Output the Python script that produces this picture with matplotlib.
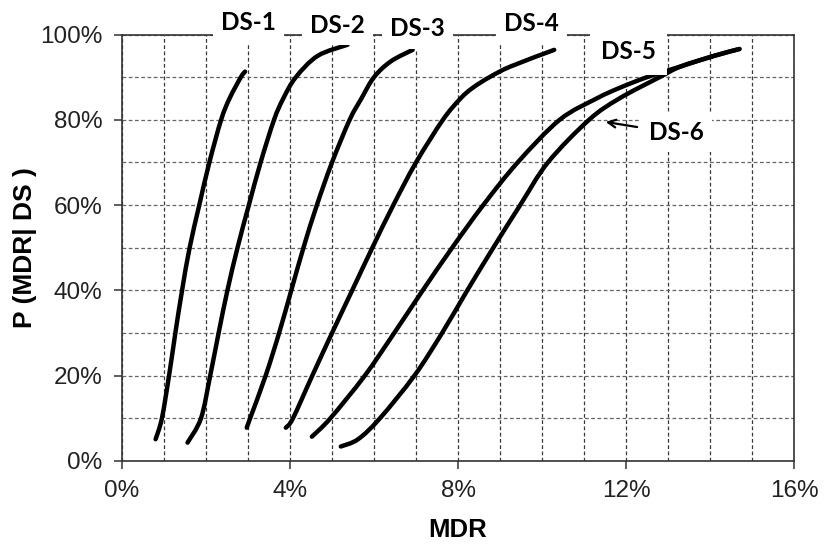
import matplotlib
matplotlib.use("Agg")
import matplotlib.pyplot as plt
from matplotlib.path import Path
from matplotlib.patches import PathPatch
from matplotlib.ticker import MultipleLocator, PercentFormatter

# Fragility-style curves: probability of mean damage ratio given damage state
ds1_x = [0.80, 0.95, 1.12, 1.27, 1.43, 1.61, 1.84, 2.08, 2.36, 2.56, 2.83, 2.93]
ds1_y = [5.1, 10, 20, 30, 40, 50, 60, 70, 80, 85, 90, 91.3]

ds2_x = [1.56, 1.88, 2.10, 2.30, 2.51, 2.75, 3.02, 3.30, 3.62, 3.84, 4.14, 4.66, 5.37]
ds2_y = [4.3, 10, 20, 30, 40, 50, 60, 70, 80, 85, 90, 95, 97.6]

ds3_x = [2.97, 3.05, 3.42, 3.74, 4.03, 4.32, 4.64, 5.00, 5.42, 5.70, 6.00, 6.40, 6.92]
ds3_y = [7.8, 10, 20, 30, 40, 50, 60, 70, 80, 85, 90, 93.7, 96.4]

ds4_x = [3.90, 4.07, 4.53, 5.00, 5.48, 5.96, 6.46, 7.00, 7.64, 8.06, 8.35, 8.75, 9.25, 10.29]
ds4_y = [7.8, 10, 20, 30, 40, 50, 60, 70, 80, 85, 87.5, 90, 92.5, 96.4]

ds5_x = [4.52, 4.96, 5.78, 6.48, 7.16, 7.86, 8.60, 9.42, 10.42, 11.30, 11.85, 12.50, 13.30, 14.10, 14.70]
ds5_y = [5.7, 10, 20, 30, 40, 50, 60, 70, 80, 85, 87.5, 90, 92.5, 95, 96.6]

ds6_x = [5.21, 5.62, 6.14, 6.96, 7.62, 8.22, 8.84, 9.48, 10.14, 11.12, 11.84, 12.80, 13.30, 14.10, 14.70]
ds6_y = [3.4, 5.1, 10, 20, 30, 40, 50, 60, 70, 80, 85, 90, 92.5, 95, 96.6]

curves = [(ds1_x, ds1_y), (ds2_x, ds2_y), (ds3_x, ds3_y),
          (ds4_x, ds4_y), (ds5_x, ds5_y), (ds6_x, ds6_y)]

labels = ["DS-1", "DS-2", "DS-3", "DS-4", "DS-5", "DS-6"]
label_pos = [(3.01, 102.7), (5.13, 102.2), (7.04, 101.3),
             (9.75, 102.5), (12.05, 95.9), (13.19, 77.1)]
label_pad = [6, 6, 6, 6, 8, 6]

x_ticks = [0, 4, 8, 12, 16]
y_ticks = [0, 20, 40, 60, 80, 100]


def smooth_path(xs, ys):
    """Cubic Bezier path passing through every point (Catmull-Rom tangents)."""
    pts = list(zip(xs, ys))
    n = len(pts)
    verts = [pts[0]]
    codes = [Path.MOVETO]
    for i in range(n - 1):
        p0 = pts[i - 1] if i > 0 else pts[i]
        p1 = pts[i]
        p2 = pts[i + 1]
        p3 = pts[i + 2] if i + 2 < n else pts[i + 1]
        c1 = (p1[0] + (p2[0] - p0[0]) / 6.0, p1[1] + (p2[1] - p0[1]) / 6.0)
        c2 = (p2[0] - (p3[0] - p1[0]) / 6.0, p2[1] - (p3[1] - p1[1]) / 6.0)
        verts += [c1, c2, p2]
        codes += [Path.CURVE4] * 3
    return Path(verts, codes)


fig = plt.figure(figsize=(8.26, 5.46), dpi=100)
ax = fig.add_axes([0.1477, 0.1557, 0.8136, 0.7811])

for xs, ys in curves:
    ax.add_patch(PathPatch(smooth_path(xs, ys), facecolor="none",
                           edgecolor="black", linewidth=3.2,
                           joinstyle="round", capstyle="round", zorder=3))

ax.set_xlim(0, 16)
ax.set_ylim(0, 100)
ax.set_xticks(x_ticks)
ax.set_yticks(y_ticks)
ax.xaxis.set_minor_locator(MultipleLocator(1))
ax.yaxis.set_minor_locator(MultipleLocator(10))
ax.xaxis.set_major_formatter(PercentFormatter(xmax=100, decimals=0))
ax.yaxis.set_major_formatter(PercentFormatter(xmax=100, decimals=0))

ax.set_axisbelow(True)
ax.grid(which="both", axis="x", color="#3a3a3a", linestyle=(0, (3, 2)), linewidth=0.9)
ax.grid(which="both", axis="y", color="#666666", linestyle=(0, (3, 2)), linewidth=0.9)

for side in ["left", "bottom", "top", "right"]:
    ax.spines[side].set_color("#333333")
    ax.spines[side].set_linewidth(1.2)

ax.tick_params(which="major", direction="out", length=6, width=1.1, color="#333333",
               labelsize=17.5, pad=8)
ax.tick_params(which="minor", length=0)
for lab in ax.get_xticklabels() + ax.get_yticklabels():
    lab.set_fontfamily("Liberation Sans")
    lab.set_color("#222222")

# Damage-state labels on white boxes
for text, (lx, ly), pd in zip(labels, label_pos, label_pad):
    ax.text(lx, ly, text, ha="center", va="center", fontsize=17.5,
            fontweight="bold", family="Lato", color="black", zorder=5,
            clip_on=False,
            bbox=dict(facecolor="white", edgecolor="none", pad=pd))

ax.annotate("", xy=(11.45, 79.6), xytext=(12.33, 78.2),
            arrowprops=dict(arrowstyle="->", color="black", lw=1.6,
                            mutation_scale=14),
            zorder=6)

fig.text(458 / 826, 1 - 530 / 546, "MDR", ha="center", va="center",
         fontsize=18.5, fontweight="bold", family="Liberation Sans")
fig.text(25 / 826, 1 - 248 / 546, "P (MDR| DS )", ha="center", va="center",
         rotation=90, fontsize=19, fontweight="bold", family="Liberation Sans")

fig.savefig("out.png", dpi=100)
